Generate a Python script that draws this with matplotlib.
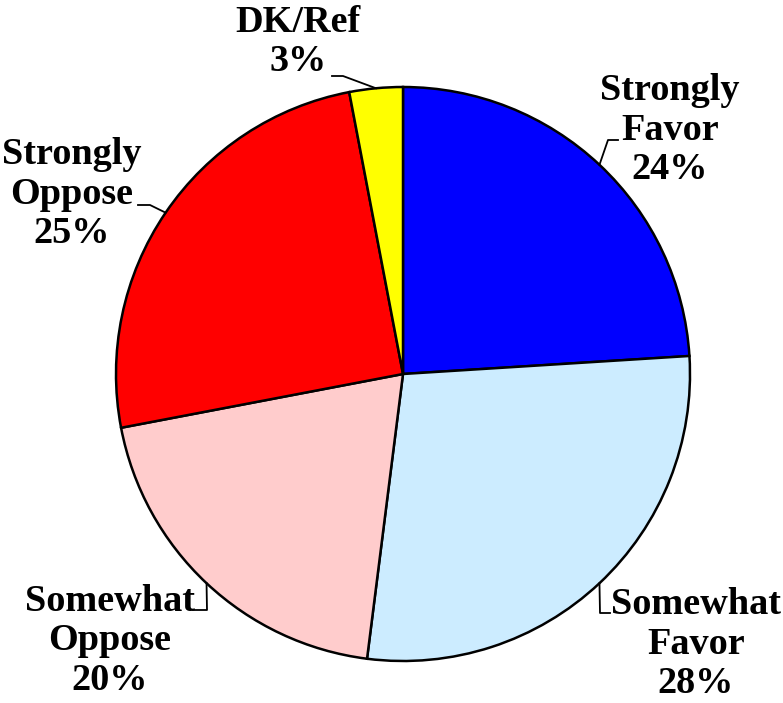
import matplotlib
matplotlib.use('Agg')
import matplotlib.pyplot as plt
import numpy as np

# survey answers, clockwise from 12 o'clock
labels = ['Strongly\nFavor', 'Somewhat\nFavor', 'Somewhat\nOppose', 'Strongly\nOppose', 'DK/Ref']
values = [24, 28, 20, 25, 3]
colors = ['#0000FF', '#CCECFF', '#FFCCCC', '#FF0000', '#FFFF00']

W, H = 783, 703
fig = plt.figure(figsize=(W / 100, H / 100), dpi=100)
ax = fig.add_axes([0, 0, 1, 1])

cx, cy, r = 403, H - 374, 287
wedges, _ = ax.pie(values, colors=colors, startangle=90, counterclock=False,
                   center=(cx, cy), radius=r, frame=True,
                   wedgeprops=dict(edgecolor='black', linewidth=1.8))
ax.set_xlim(0, W)
ax.set_ylim(0, H)
ax.set_aspect('equal')
ax.axis('off')

# label centres and leader elbows in pixel coords (y from top)
text_pos = [(670, 130), (696, 644), (110, 641), (72, 194), (298, 42)]
elbows = [((608, 140), (618, 140)),
          ((600, 613), (610, 613)),
          ((207, 610), (193, 610)),
          ((150, 205), (138, 205)),
          ((343, 76), (332, 76))]

for w, lab, v, (tx, ty), (e1, e2) in zip(wedges, labels, values, text_pos, elbows):
    ang = np.deg2rad((w.theta1 + w.theta2) / 2)
    px, py = cx + r * np.cos(ang), cy + r * np.sin(ang)
    ax.plot([px, e1[0], e2[0]], [py, H - e1[1], H - e2[1]], color='black', lw=1.3)
    ax.text(tx, H - ty, f'{lab}\n{v}%', ha='center', va='center', multialignment='center',
            fontsize=27.5, fontweight='bold', family='Liberation Serif', linespacing=1.15)

fig.savefig('out.png', dpi=100)
